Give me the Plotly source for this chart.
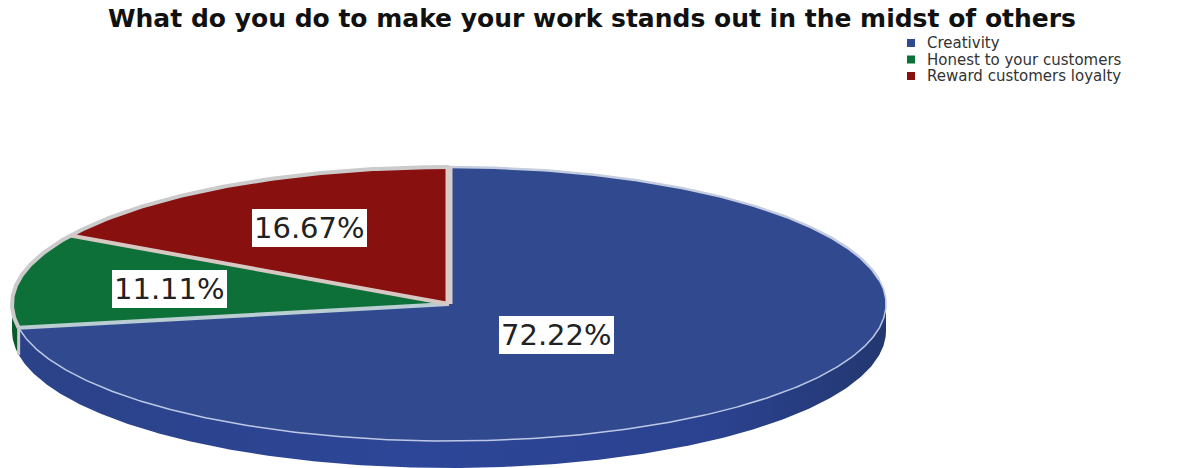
import numpy as np
import plotly.graph_objects as go

# Survey results
categories = ["Creativity", "Honest to your customers", "Reward customers loyalty"]
percentages = [72.22, 11.11, 16.67]
label_texts = ["72.22%", "11.11%", "16.67%"]

TITLE = "What do you do to make your work stands out in the midst of others"

# Styling per slice
top_colors = ["#31498f", "#0d7038", "#88100f"]
side_colors = ["#2b4494", "#0a5a2c", "#6e0c0c"]
label_radius = [0.32, 0.65, 0.64]
label_yshift = [-3, 0, 0]

# Tilted-disc geometry, in pixels
CX, CY, RX, RY, DEPTH = 449, 304, 437, 137, 27
RIM = "#cbcbcb"


def rim_xy(theta_deg, drop=0.0, scale=1.0):
    """Point on the ellipse for an angle measured clockwise from 12 o'clock."""
    t = np.radians(theta_deg)
    return CX + scale * RX * np.sin(t), CY - scale * RY * np.cos(t) + drop


def arc(a, b, drop=0.0):
    return rim_xy(np.linspace(a, b, max(int(abs(b - a) * 2), 2)), drop)


total = sum(percentages)
edges = np.concatenate([[0.0], np.cumsum(percentages) / total * 360.0])

fig = go.Figure()

# Visible outer wall: the front half of the disc, from 3 o'clock round to 9 o'clock
for i in range(len(percentages)):
    a, b = max(edges[i], 90.0), min(edges[i + 1], 270.0)
    if a >= b:
        continue
    xt, yt = arc(a, b)
    xb, yb = arc(b, a, DEPTH)
    wall = dict(
        x=np.concatenate([xt, xb]), y=np.concatenate([yt, yb]),
        mode="lines", fill="toself", fillcolor=side_colors[i],
        line=dict(width=0), hoverinfo="skip", showlegend=False)
    if i == 0:
        # The long front wall darkens towards the right-hand end
        wall["fillgradient"] = dict(
            type="horizontal",
            colorscale=[[0, "#2b4288"], [0.45, "#2d4697"], [0.8, "#2b4290"], [1, "#233770"]])
    fig.add_trace(go.Scatter(**wall))

# Wall edge beside the largest slice
x0, y0 = rim_xy(edges[1])
fig.add_trace(go.Scatter(
    x=[x0, x0], y=[y0, y0 + DEPTH], mode="lines",
    line=dict(color=RIM, width=3), hoverinfo="skip", showlegend=False))

# Top faces of the slices
for i, name in enumerate(categories):
    xa, ya = arc(edges[i], edges[i + 1])
    fig.add_trace(go.Scatter(
        x=np.concatenate([[CX], xa, [CX]]), y=np.concatenate([[CY], ya, [CY]]),
        mode="lines", fill="toself", fillcolor=top_colors[i],
        line=dict(width=0), name=name, hoverinfo="name", showlegend=False))

# Rim: thick at the back, a hairline along the front
xr, yr = arc(edges[1], 360)
fig.add_trace(go.Scatter(x=xr, y=yr, mode="lines", line=dict(color=RIM, width=4),
                         hoverinfo="skip", showlegend=False))
xr, yr = arc(0, 80)
fig.add_trace(go.Scatter(x=xr, y=yr, mode="lines", line=dict(color="#c4cce0", width=2.5),
                         hoverinfo="skip", showlegend=False))
xr, yr = arc(80, edges[1])
fig.add_trace(go.Scatter(x=xr, y=yr, mode="lines", line=dict(color="#bcc8e6", width=1.5),
                         hoverinfo="skip", showlegend=False))

# Separators between slices
spoke_widths = [7, 4, 4]
spoke_colors = ["#d8cdcb", "#b9cdd2", "#d8c8c4"]
for edge, w, c in zip([edges[0], edges[1], edges[2]], spoke_widths, spoke_colors):
    ex, ey = rim_xy(edge)
    fig.add_trace(go.Scatter(x=[CX, ex], y=[CY, ey], mode="lines",
                             line=dict(color=c, width=w), hoverinfo="skip", showlegend=False))

# Boxed percentage labels at each slice's mid-angle
for i, text in enumerate(label_texts):
    lx, ly = rim_xy((edges[i] + edges[i + 1]) / 2, scale=label_radius[i])
    fig.add_annotation(x=float(lx), y=float(ly), yshift=label_yshift[i], text=text, showarrow=False,
                       font=dict(family="DejaVu Sans", size=29, color="#222222"),
                       bgcolor="white", borderwidth=0, borderpad=2)

# Key at the top right
key_x, key_text_x, key_y, key_step = 911, 925, 43, 16.5
fig.add_trace(go.Scatter(
    x=[key_x] * 3, y=[key_y + k * key_step for k in range(3)], mode="markers",
    marker=dict(symbol="square", size=8, color=top_colors, line=dict(width=0)),
    hoverinfo="skip", showlegend=False))
for k, name in enumerate(categories):
    fig.add_annotation(x=key_text_x, y=key_y + k * key_step, text=name, showarrow=False,
                       xanchor="left", font=dict(family="DejaVu Sans", size=15, color="#333333"))

fig.update_layout(
    width=1178, height=468, autosize=False,
    margin=dict(l=0, r=0, t=0, b=0),
    paper_bgcolor="white", plot_bgcolor="white",
    title=dict(text="<b>" + TITLE + "</b>", x=592 / 1178, y=1 - 18 / 468,
               xanchor="center", yanchor="middle",
               font=dict(family="DejaVu Sans", size=25, color="#111111")),
    xaxis=dict(range=[0, 1178], visible=False, fixedrange=True),
    yaxis=dict(range=[468, 0], visible=False, fixedrange=True),
)

fig.write_html("out.html", config=dict(displayModeBar=False))
